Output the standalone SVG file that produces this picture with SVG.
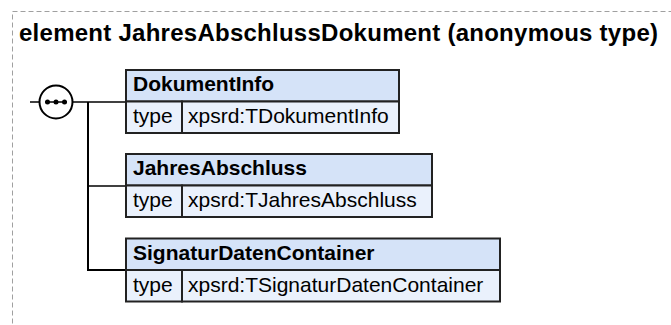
<svg xmlns="http://www.w3.org/2000/svg" width="671" height="325" viewBox="0 0 671 325">
<style>
.frame{fill:none;stroke:#a0a0a0;stroke-width:1;stroke-dasharray:5 3}
.title{font-family:"Liberation Sans",Arial,sans-serif;font-weight:bold;font-size:24px;fill:#000}
.hdr{fill:#d5e3f8;stroke:#222;stroke-width:2}
.row{fill:#eaf1fc;stroke:#222;stroke-width:2}
.name{font-family:"Liberation Sans",Arial,sans-serif;font-weight:bold;font-size:21px;fill:#000}
.txt{font-family:"Liberation Sans",Arial,sans-serif;font-size:21px;fill:#000}
.ln{fill:none;stroke:#000;stroke-width:1.5}
.lnb{fill:none;stroke:#000;stroke-width:2}
</style>
<rect class="frame" x="12.5" y="11.5" width="700" height="400"/>
<text class="title" x="19" y="41" textLength="639" lengthAdjust="spacing">element JahresAbschlussDokument (anonymous type)</text>
<g id="connectors">
<line class="ln" x1="30" y1="102" x2="39" y2="102"/>
<line class="ln" x1="73" y1="102" x2="126" y2="102"/>
<polyline class="lnb" points="88,102 88,270 126,270"/>
<line class="ln" x1="88" y1="186" x2="126" y2="186"/>
</g>
<g id="sequence">
<circle cx="56" cy="102" r="16.5" fill="#fff" stroke="#000" stroke-width="2"/>
<line x1="45" y1="102" x2="67" y2="102" stroke="#000" stroke-width="1.5"/>
<circle cx="47.5" cy="102" r="2.5" fill="#000"/>
<circle cx="56" cy="102" r="2.5" fill="#000"/>
<circle cx="64.5" cy="102" r="2.5" fill="#000"/>
</g>
<g id="DokumentInfo">
<rect class="hdr" x="126" y="70" width="273" height="31.5"/>
<rect class="row" x="126" y="101.5" width="56" height="31.5"/>
<rect class="row" x="182" y="101.5" width="217" height="31.5"/>
<text class="name" x="133" y="91">DokumentInfo</text>
<text class="txt" x="133" y="123">type</text>
<text class="txt" x="188" y="123">xpsrd:TDokumentInfo</text>
</g>
<g id="JahresAbschluss">
<rect class="hdr" x="126" y="154" width="306" height="31.5"/>
<rect class="row" x="126" y="185.5" width="56" height="31.5"/>
<rect class="row" x="182" y="185.5" width="250" height="31.5"/>
<text class="name" x="133" y="175">JahresAbschluss</text>
<text class="txt" x="133" y="207">type</text>
<text class="txt" x="188" y="207">xpsrd:TJahresAbschluss</text>
</g>
<g id="SignaturDatenContainer">
<rect class="hdr" x="126" y="238.5" width="374" height="31.5"/>
<rect class="row" x="126" y="270" width="56" height="31.5"/>
<rect class="row" x="182" y="270" width="318" height="31.5"/>
<text class="name" x="133" y="259.5">SignaturDatenContainer</text>
<text class="txt" x="133" y="291.5">type</text>
<text class="txt" x="188" y="291.5">xpsrd:TSignaturDatenContainer</text>
</g>
</svg>
